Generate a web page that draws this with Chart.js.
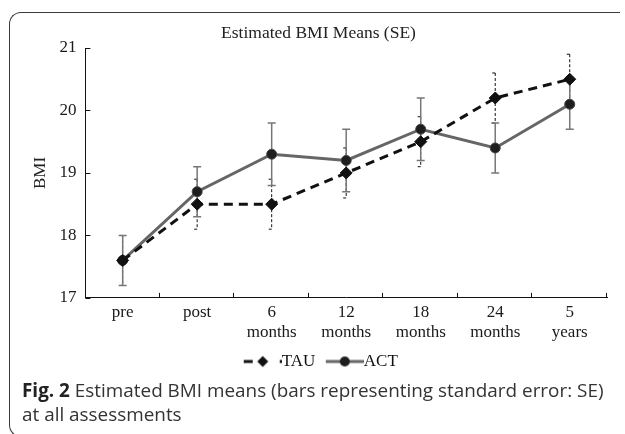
<!DOCTYPE html>
<html lang="en">
<head>
  <meta charset="UTF-8">
  <title>Estimated BMI Means (SE)</title>
  <script src="https://cdn.jsdelivr.net/npm/chart.js"></script>
  <style>
    html, body { margin: 0; padding: 0; background: #fff; overflow: hidden; }
    body { width: 625px; height: 434px; position: relative; }
    .frame { position: absolute; left: 9px; top: 12px; width: 611px; height: 425px; border: 1.5px solid #3c3c3c; border-right: none; border-radius: 12px 0 0 12px; box-sizing: border-box; }
    .chart-box { position: absolute; left: 10px; top: 14px; width: 610px; height: 366px; }
    .caption { position: absolute; left: 22px; top: 378px; font-family: "Open Sans", sans-serif; font-size: 18.9px; line-height: 24px; color: #333; white-space: nowrap; }
    .caption b { color: #222; }
  </style>
</head>
<body>
  <div class="frame"></div>
  <div class="chart-box"><canvas id="bmiChart"></canvas></div>
  <div class="caption"><b>Fig. 2</b> Estimated BMI means (bars representing standard error: SE)<br>at all assessments</div>

  <script>
    const labels = [["pre"], ["post"], ["6", "months"], ["12", "months"], ["18", "months"], ["24", "months"], ["5", "years"]];
    const tauMeans = [17.6, 18.5, 18.5, 19.0, 19.5, 20.2, 20.5];
    const tauSE = [0.4, 0.4, 0.4, 0.4, 0.4, 0.4, 0.4];
    const actMeans = [17.6, 18.7, 19.3, 19.2, 19.7, 19.4, 20.1];
    const actSE = [0.4, 0.4, 0.5, 0.5, 0.5, 0.4, 0.4];
    const yTicks = [17, 18, 19, 20, 21];

    const serif = "'Liberation Serif', 'Times New Roman', serif";

    // legend samples: line + marker
    function legendIcon(kind) {
      const c = document.createElement("canvas");
      c.width = 51; c.height = 14;
      const g = c.getContext("2d");
      const x0 = 13, cy = 7;
      if (kind === "tau") {
        g.fillStyle = "#111";
        g.fillRect(x0, cy - 1.5, 9, 3);
        g.beginPath();
        g.moveTo(x0 + 19, cy - 5.5); g.lineTo(x0 + 24.5, cy); g.lineTo(x0 + 19, cy + 5.5); g.lineTo(x0 + 13.5, cy);
        g.closePath(); g.fill();
        g.fillRect(x0 + 36, cy - 1.5, 2.5, 3);
      } else {
        g.fillStyle = "#666";
        g.fillRect(x0, cy - 1.5, 38, 3);
        g.fillStyle = "#1e1e1e";
        g.beginPath(); g.arc(x0 + 19, cy, 5, 0, Math.PI * 2); g.fill();
      }
      return c;
    }
    const icons = [legendIcon("tau"), legendIcon("act")];

    const errorBars = {
      id: "errorBars",
      beforeDatasetsDraw(chart) {
        const { ctx, scales: { x, y } } = chart;
        ctx.save();
        chart.data.datasets.forEach(ds => {
          const dashed = ds.label === "TAU";
          ctx.strokeStyle = dashed ? "#111" : "#777";
          ctx.lineWidth = dashed ? 1 : 1.5;
          ds.data.forEach((v, i) => {
            const px = x.getPixelForValue(i);
            const top = y.getPixelForValue(v + ds.se[i]);
            const bot = y.getPixelForValue(v - ds.se[i]);
            ctx.setLineDash(dashed ? [3, 2] : []);
            ctx.beginPath();
            ctx.moveTo(px, top); ctx.lineTo(px, bot);
            ctx.stroke();
            ctx.setLineDash([]);
            ctx.beginPath();
            if (dashed) {
              ctx.moveTo(px - 3, top); ctx.lineTo(px, top);
              ctx.moveTo(px - 3, bot); ctx.lineTo(px, bot);
            } else {
              ctx.moveTo(px - 4, top); ctx.lineTo(px + 4, top);
              ctx.moveTo(px - 4, bot); ctx.lineTo(px + 4, bot);
            }
            ctx.stroke();
          });
        });
        ctx.restore();
      }
    };

    // inward tick marks on both axes
    const innerTicks = {
      id: "innerTicks",
      afterDraw(chart) {
        const { ctx, chartArea: a, scales: { x, y } } = chart;
        const n = labels.length;
        ctx.save();
        ctx.strokeStyle = "#111";
        ctx.lineWidth = 1;
        ctx.beginPath();
        yTicks.forEach(t => {
          const py = Math.round(y.getPixelForValue(t)) + 0.5;
          ctx.moveTo(a.left, py); ctx.lineTo(a.left + 5, py);
        });
        for (let i = 0; i < n; i++) {
          const next = i < n - 1 ? x.getPixelForValue(i + 1) : 2 * x.getPixelForValue(i) - x.getPixelForValue(i - 1);
          const px = Math.round((x.getPixelForValue(i) + next) / 2) - 0.5;
          ctx.moveTo(px, a.bottom); ctx.lineTo(px, a.bottom - 5);
        }
        ctx.stroke();
        ctx.restore();
      }
    };

    new Chart(document.getElementById("bmiChart"), {
      type: "line",
      data: {
        labels,
        datasets: [
          { label: "TAU", data: tauMeans, se: tauSE, borderColor: "#111", borderWidth: 3, borderDash: [9, 6],
            pointStyle: "rectRot", pointRadius: 6, pointBackgroundColor: "#111", pointBorderColor: "#111", pointBorderWidth: 1, tension: 0 },
          { label: "ACT", data: actMeans, se: actSE, borderColor: "#666", borderWidth: 3,
            pointStyle: "circle", pointRadius: 5, pointBackgroundColor: "#1e1e1e", pointBorderColor: "#444", pointBorderWidth: 1, tension: 0 }
        ]
      },
      options: {
        responsive: true,
        maintainAspectRatio: false,
        animation: false,
        layout: { padding: { left: 20, right: 13, top: 0, bottom: 0 } },
        plugins: {
          title: { display: true, text: "Estimated BMI Means (SE)", color: "#222",
                   font: { family: serif, size: 17.5, weight: "normal" }, padding: { top: 9, bottom: 4 } },
          legend: {
            position: "bottom",
            labels: {
              usePointStyle: true, pointStyleWidth: 34, padding: 6, color: "#111",
              font: { family: serif, size: 17 },
              generateLabels(chart) {
                const items = Chart.defaults.plugins.legend.labels.generateLabels(chart);
                items.forEach((it, i) => { it.pointStyle = icons[i]; });
                return items;
              }
            }
          },
          tooltip: { enabled: false }
        },
        scales: {
          x: {
            offset: true,
            grid: { display: false, drawTicks: false },
            border: { display: true, color: "#111", width: 1 },
            ticks: { color: "#1a1a1a", padding: 5, maxRotation: 0, autoSkip: false,
                     font: { family: serif, size: 17, lineHeight: 1.15 } }
          },
          y: {
            min: 17, max: 21,
            grid: { display: false, drawTicks: false },
            border: { display: true, color: "#111", width: 1 },
            ticks: { stepSize: 1, color: "#1a1a1a", padding: 9, font: { family: serif, size: 17 } },
            title: { display: true, text: "BMI", color: "#222", padding: 0,
                     font: { family: serif, size: 17 } }
          }
        }
      },
      plugins: [errorBars, innerTicks]
    });
  </script>
</body>
</html>
